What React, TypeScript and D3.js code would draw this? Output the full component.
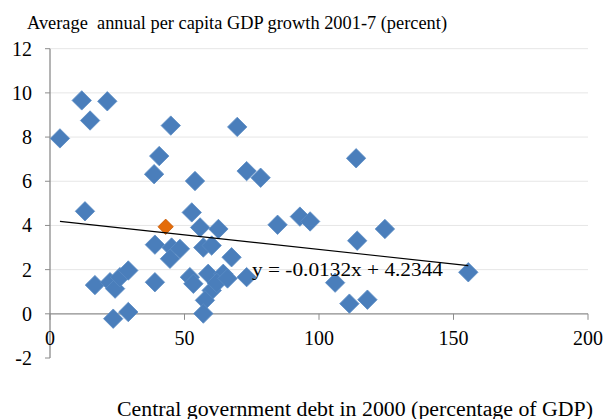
import React from 'react';
import * as d3 from 'd3';

// central government debt 2000 (% of GDP) vs per capita GDP growth 2001-7 (%)
const debt = [3.7, 11.8, 14.9, 21.3, 13.0, 16.7, 22.3, 24.2, 26.0, 29.1, 23.5, 29.1, 38.7, 40.6, 44.9, 53.9, 69.6, 73.1, 78.3, 39.0, 39.0, 45.2, 48.3, 44.6, 52.7, 55.8, 62.6, 57.0, 60.1, 67.5, 52.0, 53.3, 58.8, 64.4, 60.1, 57.6, 57.0, 62.0, 66.0, 73.1, 84.6, 92.9, 96.7, 113.8, 114.2, 124.5, 106.0, 111.3, 118.0, 155.5];
const growth = [7.94, 9.66, 8.75, 9.62, 4.64, 1.30, 1.43, 1.14, 1.66, 1.96, -0.22, 0.08, 6.32, 7.14, 8.52, 6.01, 8.46, 6.46, 6.16, 3.13, 1.43, 3.0, 2.94, 2.49, 4.59, 3.91, 3.84, 3.0, 3.09, 2.56, 1.66, 1.36, 1.81, 1.81, 1.06, 0.61, 0.01, 1.4, 1.6, 1.66, 4.03, 4.40, 4.18, 7.04, 3.31, 3.84, 1.41, 0.46, 0.64, 1.88];
const highlightDebt = [43.0];
const highlightGrowth = [3.94];

const xTicks = [0, 50, 100, 150, 200];
const yTicks = [-2, 0, 2, 4, 6, 8, 10, 12];
const slope = -0.0132;
const intercept = 4.2344;
const trendRange = [3.7, 155.5];

const yTitle = 'Average  annual per capita GDP growth 2001-7 (percent)';
const xTitle = 'Central government debt in 2000 (percentage of GDP)';
const equation = 'y = -0.0132x + 4.2344';

const width = 605;
const height = 419;
const font = '"Liberation Serif", "Times New Roman", serif';

const App: React.FC = () => {
  const x = d3.scaleLinear().domain([0, 200]).range([50, 588]);
  const y = d3.scaleLinear().domain([-2, 12]).range([358, 48.7]);

  const diamond = d3.symbol().type(d3.symbolDiamond2).size(240)()!;
  const smallDiamond = d3.symbol().type(d3.symbolDiamond2).size(150)()!;

  const pts = debt.map((d, i) => ({ x: d, y: growth[i] }));
  const hl = highlightDebt.map((d, i) => ({ x: d, y: highlightGrowth[i] }));

  const line = d3
    .line<number>()
    .x((d) => x(d))
    .y((d) => y(slope * d + intercept));

  return (
    <svg
      width={width}
      height={height}
      style={{ position: 'absolute', left: 0, top: 0, background: '#fff' }}
    >
      {/* gridlines */}
      {yTicks
        .filter((t) => t > 0)
        .map((t) => (
          <line key={'g' + t} x1={x(0)} x2={x(200)} y1={y(t)} y2={y(t)} stroke="#e6e6e6" strokeWidth={1} />
        ))}

      {/* y axis */}
      <line x1={x(0)} x2={x(0)} y1={y(12)} y2={y(-2)} stroke="#8c8c8c" strokeWidth={1.3} />
      {yTicks.map((t) => (
        <g key={'y' + t}>
          <line x1={x(0) - 5} x2={x(0)} y1={y(t)} y2={y(t)} stroke="#8c8c8c" strokeWidth={1} />
          <text x={32} y={y(t)} dy="0.35em" textAnchor="end" fontSize={20} fontFamily={font} fill="#000">
            {t}
          </text>
        </g>
      ))}

      {/* x axis at y=0 */}
      <line x1={x(0)} x2={x(200)} y1={y(0)} y2={y(0)} stroke="#8c8c8c" strokeWidth={1.3} />
      {xTicks.map((t) => (
        <g key={'x' + t}>
          <line x1={x(t)} x2={x(t)} y1={y(0)} y2={y(0) + 6} stroke="#8c8c8c" strokeWidth={1} />
          <text x={x(t)} y={345} textAnchor="middle" fontSize={20} fontFamily={font} fill="#000">
            {t}
          </text>
        </g>
      ))}

      {/* points */}
      {pts.map((p, i) => (
        <path
          key={'p' + i}
          d={diamond}
          transform={`translate(${x(p.x)},${y(p.y)})`}
          fill="#4a7ebb"
          stroke="#5b8bc4"
          strokeWidth={0.8}
        />
      ))}
      {hl.map((p, i) => (
        <path
          key={'h' + i}
          d={smallDiamond}
          transform={`translate(${x(p.x)},${y(p.y)})`}
          fill="#e46c0a"
          stroke="#c55a08"
          strokeWidth={0.8}
        />
      ))}

      {/* linear trend */}
      <path d={line(trendRange)!} fill="none" stroke="#000" strokeWidth={1.1} />
      <text x={252} y={276} fontSize={19} fontFamily={font} fill="#000" textLength={191} lengthAdjust="spacingAndGlyphs">
        {equation}
      </text>

      {/* titles */}
      <text x={27} y={29} fontSize={18} fontFamily={font} fill="#000" textLength={420} lengthAdjust="spacingAndGlyphs" style={{ whiteSpace: 'pre' }}>
        {yTitle}
      </text>
      <text x={117} y={416} fontSize={20} fontFamily={font} fill="#000" textLength={476} lengthAdjust="spacingAndGlyphs">
        {xTitle}
      </text>
    </svg>
  );
};

export default App;
